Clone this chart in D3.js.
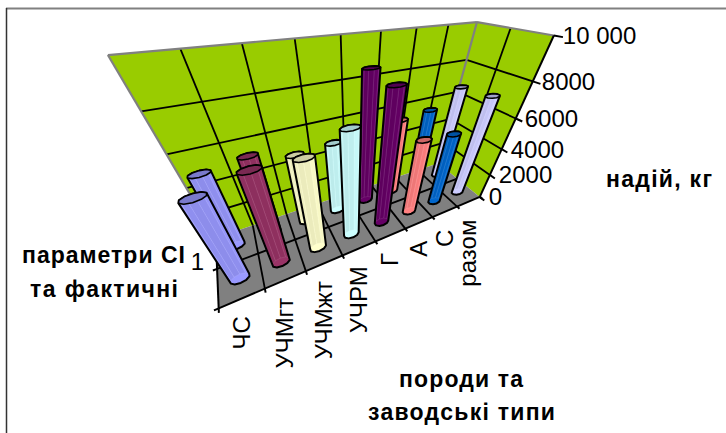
<!DOCTYPE html>
<html lang="uk"><head><meta charset="utf-8"><title>Надій за породами та заводськими типами</title>
<script src="https://d3js.org/d3.v7.min.js"></script>
<style>
html,body{margin:0;background:#fff}
svg{display:block;font-family:"Liberation Sans",Arial,sans-serif}
</style></head>
<body><svg id="chart" width="726" height="433"></svg>
<script>
// Yield by breed and factory type, two rows of cylinders
const categories = ["ЧС", "УЧМгт", "УЧМжт", "УЧРМ", "Г", "А", "С", "разом"];
const rows = ["фактичні", "параметри СІ"];
const actualYield = [5810, 6370, 6270, 7140, 8600, 5440, 5260, 7050];
const targetYield = [5320, 5630, 5050, 5180, 8700, 5580, 5770, 6830];
const barColors = ["#9999ff", "#993366", "#ffffcc", "#ccffff", "#660066", "#ff8080", "#0066cc", "#ccccff"];
const yieldTicks = [0, 2000, 4000, 6000, 8000, 10000];
const tickLabel = v => v === 10000 ? "10 000" : String(v);

// Perspective camera: (u, v, z) in the unit box to screen pixels
const cam = [
  [502.63948, 54.88693, -196.84167, 218.69107],
  [-12.34799, -6.82344, -262.3572, 308.34315],
  [0.50344, 0.26772, -0.55645, 1]
];
function project(u, v, z) {
  const h = cam.map(r => r[0] * u + r[1] * v + r[2] * z + r[3]);
  return [h[0] / h[2], h[1] / h[2]];
}

const xBand = d3.scaleBand().domain(categories).range([0, 1]);
const depth = d3.scalePoint().domain(rows).range([0, 1]).padding(0.5);
const height = d3.scaleLinear().domain([0, 10000]).range([0, 1]);

const svg = d3.select("#chart");
const path = pts => "M" + pts.map(p => p.join(",")).join("L") + "Z";
const seg = (a, b) => "M" + a.join(",") + "L" + b.join(",");

// Page frame
svg.append("line").attr("x1", 6).attr("x2", 726).attr("y1", 8.5).attr("y2", 8.5).attr("stroke", "#808080").attr("stroke-width", 2);
svg.append("line").attr("x1", 6.5).attr("x2", 6.5).attr("y1", 8).attr("y2", 433).attr("stroke", "#333").attr("stroke-width", 1.5);

const GREEN = "#99cc00", GREY = "#808080";
// Walls
svg.append("path").attr("fill", GREEN).attr("d", path([project(0,1,0), project(1,1,0), project(1,1,1), project(0,1,1)]));
svg.append("path").attr("fill", GREEN).attr("d", path([project(1,1,0), project(1,0,0), project(1,0,1), project(1,1,1)]));
// Floor
svg.append("path").attr("fill", GREY).attr("d", path([project(0,0,0), project(1,0,0), project(1,1,0), project(0,1,0)]));

const grid = svg.append("g").attr("fill", "none").attr("stroke", "#000").attr("stroke-width", 1.8);
const uLines = d3.range(1, categories.length).map(i => i / categories.length);
uLines.forEach(u => {
  grid.append("path").attr("d", seg(project(u,1,0), project(u,1,1)));
  grid.append("path").attr("d", seg(project(u,0,0), project(u,1,0)));
});
yieldTicks.slice(1, -1).forEach(t => {
  const z = height(t);
  grid.append("path").attr("d", seg(project(0,1,z), project(1,1,z)));
  grid.append("path").attr("d", seg(project(1,1,z), project(1,0,z)));
});
grid.append("path").attr("d", seg(project(1,0.5,0), project(1,0.5,1)));
grid.append("path").attr("d", seg(project(0,0.5,0), project(1,0.5,0)));

// Grey wall edges
const edges = svg.append("g").attr("fill", "none").attr("stroke", GREY).attr("stroke-width", 2.2);
edges.append("path").attr("d", seg(project(0,1,0), project(0,1,1)));
edges.append("path").attr("d", seg(project(0,1,1), project(1,1,1)));
edges.append("path").attr("d", seg(project(1,1,1), project(1,0,1)));
edges.append("path").attr("d", seg(project(1,1,0), project(1,1,1)));

// Axis lines and tick marks
const axes = svg.append("g").attr("fill", "none").attr("stroke", "#000").attr("stroke-width", 2);
axes.append("path").attr("d", seg(project(0,0,0), project(1,0,0)));
axes.append("path").attr("d", seg(project(0,0,0), project(0,1,0)));
axes.append("path").attr("d", seg(project(1,0,0), project(1,0,1)));
yieldTicks.forEach(t => axes.append("path").attr("d", seg(project(1,0,height(t)), project(1,-0.09,height(t)))));
d3.range(0, categories.length + 1).forEach(i => {
  const u = i / categories.length;
  axes.append("path").attr("d", seg(project(u,0,0), project(u,-0.05,0)));
});
[0, 0.5].forEach(v => axes.append("path").attr("d", seg(project(0,v,0), project(-0.012,v,0))));

// Cylinders, far row first
const SIDES = 10, RU = 0.028, RV = 0.06;
function drawBar(g, u, v, value, color) {
  const z = height(value);
  const ring = d3.range(SIDES).map(i => {
    const a = (i + 0.5) / SIDES * 2 * Math.PI;
    return [u + RU * Math.cos(a), v + RV * Math.sin(a), a];
  });
  const low = ring.map(r => project(r[0], r[1], 0));
  const high = ring.map(r => project(r[0], r[1], z));
  const hull = d3.polygonHull(low.concat(high));
  g.append("path").attr("d", path(hull)).attr("fill", color);
  ring.forEach((r, i) => {
    const j = (i + 1) % SIDES;
    const quad = [low[i], low[j], high[j], high[i]];
    if (d3.polygonArea(quad) >= 0) return;
    const lit = Math.cos(r[2] + Math.PI / SIDES + 1.3);
    const shade = lit > 0 ? d3.interpolateRgb(color, "#fff")(lit * 0.08) : d3.interpolateRgb(color, "#000")(-lit * 0.08);
    g.append("path").attr("d", path(quad)).attr("fill", shade)
      .attr("stroke", d3.interpolateRgb(color, "#fff")(0.3)).attr("stroke-width", 0.5).attr("stroke-opacity", 0.6);
  });
  g.append("path").attr("d", path(hull)).attr("fill", "none").attr("stroke", "#000")
    .attr("stroke-width", 2).attr("stroke-linejoin", "round");
  g.append("path").attr("d", path(high)).attr("fill", d3.interpolateRgb(color, "#000")(0.2))
    .attr("stroke", "#000").attr("stroke-width", 1.6).attr("stroke-linejoin", "round");
}
const bars = svg.append("g");
const centre = c => xBand(c) + xBand.bandwidth() / 2;
categories.forEach((c, i) => drawBar(bars, centre(c), depth(rows[1]), targetYield[i], barColors[i]));
categories.forEach((c, i) => drawBar(bars, centre(c), depth(rows[0]), actualYield[i], barColors[i]));

// Text
const LABEL = 24;
const valueLabels = svg.append("g").attr("font-size", LABEL).attr("fill", "#000");
yieldTicks.forEach(t => {
  const p = project(1, 0, height(t));
  valueLabels.append("text").attr("x", p[0] + 9).attr("y", p[1] + 8.5).text(tickLabel(t));
});
svg.append("text").attr("font-size", LABEL).attr("text-anchor", "end").attr("x", 204).attr("y", 270).text("1");
categories.forEach(c => {
  const p = project(centre(c), 0, 0);
  svg.append("text").attr("font-size", LABEL).attr("text-anchor", "end")
    .attr("transform", `translate(${p[0] + 7.5},${p[1] + 18}) rotate(-90)`).text(c);
});
const titles = [
  ["надій, кг", 606, 187, 106],
  ["параметри СІ", 22, 263, 163],
  ["та фактичні", 30, 297, 148],
  ["породи та", 399, 387, 124],
  ["заводські типи", 368, 420, 187]
];
titles.forEach(([s, x, y, w]) => svg.append("text").attr("font-size", 23).attr("font-weight", "bold")
  .attr("x", x).attr("y", y).attr("textLength", w).attr("lengthAdjust", "spacing").text(s));
</script></body></html>
